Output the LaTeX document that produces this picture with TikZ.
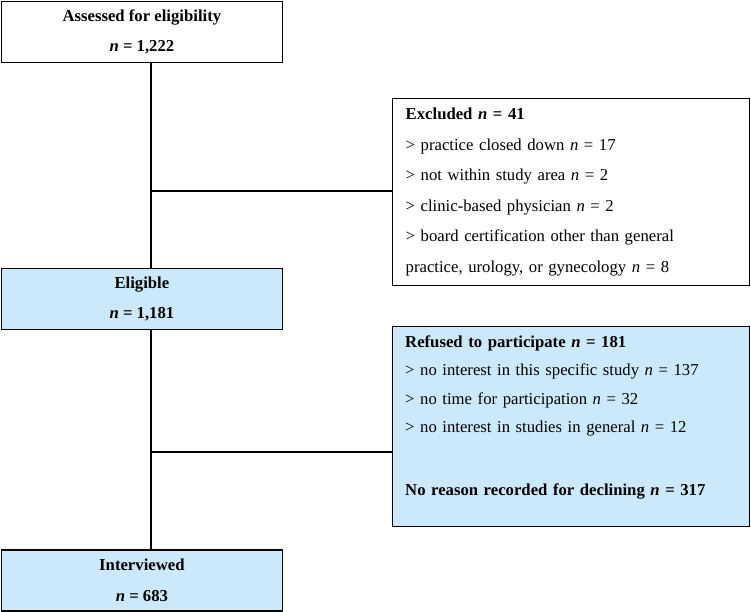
\documentclass[tikz,border=0pt]{standalone}
\usepackage{fontspec}
\setmainfont{Liberation Serif}
\definecolor{boxblue}{RGB}{204,233,251}
\begin{document}
\begin{tikzpicture}[x=1pt,y=-1pt,
  box/.style={draw=black, line width=1.4pt, inner sep=0pt, font=\fontsize{16.7}{30.5}\selectfont},
  mainbox/.style={box, minimum width=281pt, minimum height=61pt, align=center, font=\fontsize{16.7}{30.5}\selectfont\bfseries},
  sidebox/.style={box, minimum width=357pt, text width=331pt, align=left},
  sidetext/.style={inner sep=0pt, text width=331pt, align=left, anchor=north west},
  conn/.style={line width=1.4pt}]
\useasboundingbox (0,0) rectangle (751,611);
\node[mainbox, fill=white, anchor=north west] (assess) at (0.7,0.7) {Assessed for eligibility\\\textit{n} = 1,222};
\node[mainbox, fill=boxblue, anchor=north west] (elig) at (0.7,268) {Eligible\\\textit{n} = 1,181};
\node[mainbox, fill=boxblue, anchor=north west] (interv) at (0.7,549.3) {Interviewed\\\textit{n} = 683};
\node[sidebox, fill=white, minimum height=187pt, anchor=north west] (excl) at (392,98) {\textbf{Excluded \textit{n} = 41}\\
> practice closed down \textit{n} = 17\\
> not within study area \textit{n} = 2\\
> clinic-based physician \textit{n} = 2\\
> board certification other than general\\
practice, urology, or gynecology \textit{n} = 8};
\node[box, fill=boxblue, minimum width=357pt, minimum height=200pt, anchor=north west] (refu) at (392,326) {};
\node[sidetext, font=\fontsize{16.7}{28.4}\selectfont] (refutext) at (405,335.5) {\textbf{Refused to participate \textit{n} = 181}\\
> no interest in this specific study \textit{n} = 137\\
> no time for participation \textit{n} = 32\\
> no interest in studies in general \textit{n} = 12\\[34.6pt]
\textbf{No reason recorded for declining \textit{n} = 317}};
\coordinate (j1) at (151,191);
\coordinate (j2) at (151,452);
\draw[conn] (assess.south -| j1) -- (elig.north -| j1);
\draw[conn] (elig.south -| j2) -- (interv.north -| j2);
\draw[conn] (j1) -- (j1 -| excl.west);
\draw[conn] (j2) -- (j2 -| refu.west);
\end{tikzpicture}
\end{document}
